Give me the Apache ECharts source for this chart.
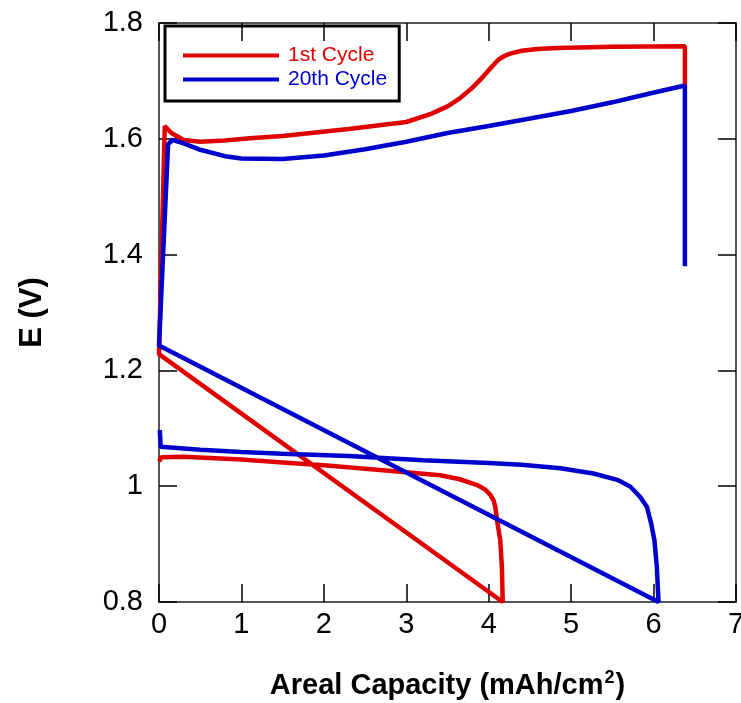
<!DOCTYPE html>
<html>
<head>
<meta charset="utf-8">
<script src="https://cdn.jsdelivr.net/npm/echarts@6/dist/echarts.min.js"></script>
<style>
html,body{margin:0;padding:0;background:#fff;overflow:hidden;}
#chart{width:741px;height:703px;}
</style>
</head>
<body>
<div id="chart"></div>
<script>
// ---- Data ----
const seriesNames = ['1st Cycle', '20th Cycle'];
const seriesColors = ['#e00000', '#0000cc'];

// 1st cycle: discharge, return to start, charge ([capacity mAh/cm2, E V])
const cycle1 = [
  [0.00, 1.043], [0.03, 1.050], [0.30, 1.051], [1.00, 1.046], [1.50, 1.041],
  [2.00, 1.036], [2.50, 1.030], [3.00, 1.024], [3.41, 1.019], [3.65, 1.012],
  [3.86, 1.002], [3.96, 0.994], [4.02, 0.985], [4.06, 0.975], [4.08, 0.964],
  [4.10, 0.942], [4.14, 0.907], [4.16, 0.860], [4.17, 0.800],
  [0.00, 1.228],
  [0.07, 1.622], [0.15, 1.610], [0.30, 1.598], [0.50, 1.595], [0.80, 1.597],
  [1.10, 1.601], [1.50, 1.605], [1.90, 1.611], [2.30, 1.617], [2.70, 1.624],
  [3.00, 1.629], [3.30, 1.643], [3.50, 1.656], [3.65, 1.670], [3.80, 1.688],
  [3.93, 1.707], [4.04, 1.725], [4.12, 1.737], [4.19, 1.743], [4.26, 1.747],
  [4.40, 1.752], [4.59, 1.755], [4.83, 1.757], [5.50, 1.759],
  [6.38, 1.760], [6.38, 1.693]
];

// 20th cycle
const cycle20 = [
  [0.01, 1.097], [0.02, 1.068], [0.50, 1.063], [1.00, 1.059], [1.50, 1.056],
  [2.30, 1.052], [3.20, 1.045], [4.00, 1.040], [4.40, 1.037], [4.87, 1.031],
  [5.27, 1.022], [5.56, 1.011], [5.72, 0.999], [5.84, 0.981], [5.92, 0.964],
  [5.97, 0.936], [6.01, 0.907], [6.04, 0.860], [6.06, 0.800],
  [0.00, 1.243],
  [0.11, 1.590], [0.16, 1.598], [0.30, 1.592], [0.50, 1.581], [0.80, 1.570],
  [1.00, 1.566], [1.50, 1.565], [2.00, 1.571], [2.50, 1.582], [3.00, 1.595],
  [3.50, 1.610], [4.00, 1.622], [4.50, 1.635], [5.00, 1.648], [5.50, 1.663],
  [5.80, 1.673], [6.10, 1.683], [6.38, 1.692], [6.38, 1.380]
];

const xRange = {min: 0, max: 7, interval: 1};
const yRange = {min: 0.8, max: 1.8, interval: 0.2};
const xTitle = 'Areal Capacity (mAh/cm{s|2})';
const yTitle = 'E (V)';

// ---- Chart ----
const FONT = "'Liberation Sans', Arial, sans-serif";
const chart = echarts.init(document.getElementById('chart'), null, {renderer: 'canvas', width: 741, height: 703});

const axisLine = {show: true, onZero: false, lineStyle: {color: '#555', width: 2}};
const axisTick = {show: true, inside: true, length: 18, lineStyle: {color: '#000', width: 1.5}};

chart.setOption({
  animation: false,
  backgroundColor: '#fff',
  grid: {left: 159, right: 5, top: 23, bottom: 101, containLabel: false, outerBoundsMode: 'none'},
  legend: {
    orient: 'vertical',
    left: 165, top: 26,
    padding: [19, 12, 11, 18],
    itemGap: 3,
    itemWidth: 96, itemHeight: 4,
    icon: 'rect',
    borderColor: '#000', borderWidth: 3,
    textStyle: {fontFamily: FONT, fontSize: 21, padding: [0, 0, 0, 4]},
    data: seriesNames.map((n, i) => ({name: n, textStyle: {color: seriesColors[i]}}))
  },
  xAxis: [{
    type: 'value', position: 'bottom', ...xRange,
    axisLine, axisTick, splitLine: {show: false},
    axisLabel: {fontFamily: FONT, fontSize: 29, color: '#000', margin: 8},
    name: xTitle, nameLocation: 'middle', nameGap: 67,
    nameTextStyle: {
      fontFamily: FONT, fontSize: 29, fontWeight: 'bold', color: '#000',
      rich: {s: {fontFamily: FONT, fontSize: 18, fontWeight: 'bold', color: '#000', verticalAlign: 'top', padding: [0, 1, 16, 1]}}
    }
  }, {
    type: 'value', position: 'top', ...xRange,
    axisLine, axisTick, splitLine: {show: false}, axisLabel: {show: false}
  }],
  yAxis: [{
    type: 'value', position: 'left', ...yRange,
    axisLine, axisTick, splitLine: {show: false},
    axisLabel: {fontFamily: FONT, fontSize: 29, color: '#000', margin: 16,
      formatter: v => String(+v.toFixed(1))},
    name: yTitle, nameLocation: 'middle', nameGap: 111, nameRotate: 90,
    nameTextStyle: {fontFamily: FONT, fontSize: 31, fontWeight: 'bold', color: '#000'}
  }, {
    type: 'value', position: 'right', ...yRange,
    axisLine, axisTick, splitLine: {show: false}, axisLabel: {show: false}
  }],
  series: [cycle1, cycle20].map((d, i) => ({
    name: seriesNames[i],
    type: 'line',
    xAxisIndex: 0, yAxisIndex: 0,
    data: d,
    showSymbol: false, symbol: 'none',
    lineStyle: {color: seriesColors[i], width: 4.5},
    itemStyle: {color: seriesColors[i]},
    clip: false
  }))
});
</script>
</body>
</html>
